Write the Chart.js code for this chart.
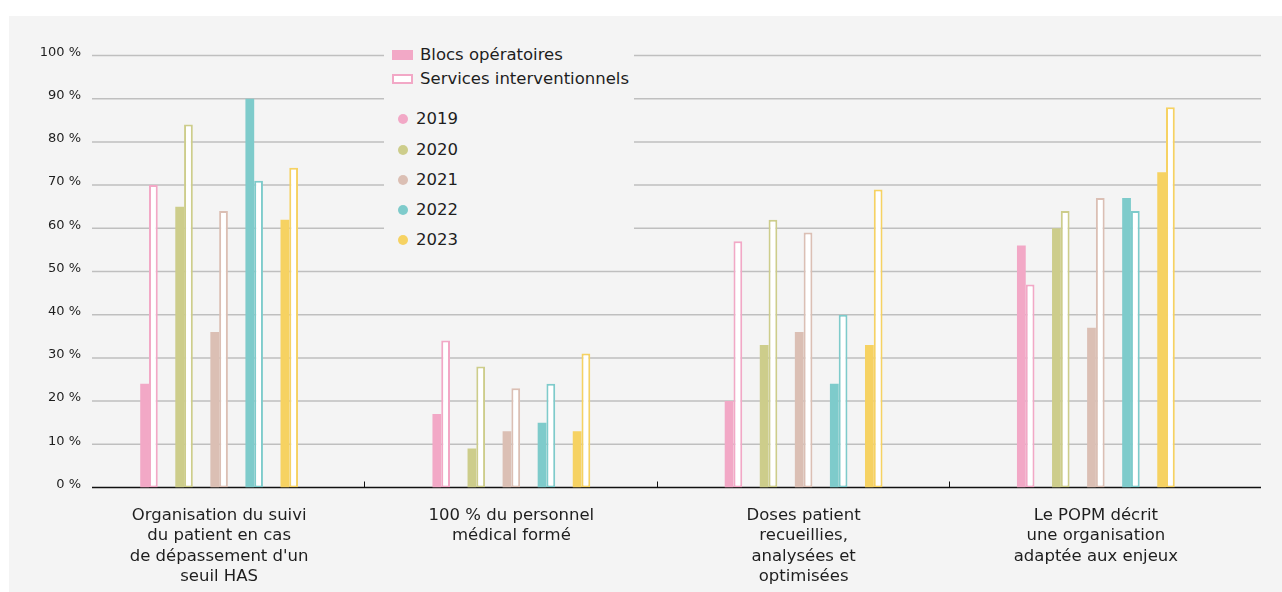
<!DOCTYPE html>
<html lang="fr">
<head>
<meta charset="utf-8">
<title>Radioprotection des patients</title>
<script src="https://cdn.jsdelivr.net/npm/chart.js@4.4.1/dist/chart.umd.min.js"></script>
<style>
  html, body { margin: 0; padding: 0; background: #ffffff; }
  body { width: 1282px; height: 592px; position: relative; overflow: hidden; font-family: "DejaVu Sans", sans-serif; color: #1e1e1e; }
  #fond { position: absolute; left: 9px; top: 16px; right: 0; bottom: 0; background: #f4f4f4; }
  #zone { position: absolute; left: 0; top: 0; width: 1282px; height: 592px; }
  #legende { position: absolute; left: 384px; top: 42px; width: 250px; height: 210px; background: #f4f4f4; }
  #legende .ligne { position: absolute; left: 0; height: 20px; line-height: 20px; font-size: 16.5px; white-space: nowrap; }
  #legende .carre { position: absolute; left: 8px; top: 5px; width: 21px; height: 10px; box-sizing: border-box; }
  #legende .rond { position: absolute; left: 14px; top: 5px; width: 10px; height: 10px; border-radius: 50%; }
</style>
</head>
<body>
<div id="fond"></div>
<div id="zone"><canvas id="chart" width="1282" height="592"></canvas></div>
<div id="legende"></div>

<script>
// indicateurs (une ligne par entrée pour l'axe des x)
const categories = [
  ["Organisation du suivi", "du patient en cas", "de dépassement d'un", "seuil HAS"],
  ["100 % du personnel", "médical formé"],
  ["Doses patient", "recueillies,", "analysées et", "optimisées"],
  ["Le POPM décrit", "une organisation", "adaptée aux enjeux"]
];

const annees = ["2019", "2020", "2021", "2022", "2023"];
const couleurs = ["#f2a8c6", "#cdcd8b", "#dbbfb4", "#7ecbcb", "#f6d262"];

// pourcentages : blocs opératoires (pleins) et services interventionnels (contour)
const blocs2019 = [24, 17, 20, 56];
const blocs2020 = [65, 9, 33, 60];
const blocs2021 = [36, 13, 36, 37];
const blocs2022 = [90, 15, 24, 67];
const blocs2023 = [62, 13, 33, 73];

const services2019 = [70, 34, 57, 47];
const services2020 = [84, 28, 62, 64];
const services2021 = [64, 23, 59, 67];
const services2022 = [71, 24, 40, 64];
const services2023 = [74, 31, 69, 88];

const ticksY = [0, 10, 20, 30, 40, 50, 60, 70, 80, 90, 100];

const blocs = [blocs2019, blocs2020, blocs2021, blocs2022, blocs2023];
const services = [services2019, services2020, services2021, services2022, services2023];

const police = "DejaVu Sans";

// deux barres collées par année, puis deux emplacements vides pour l'écart
const datasets = [];
annees.forEach((an, i) => {
  datasets.push({
    label: "Blocs opératoires " + an,
    data: blocs[i],
    backgroundColor: couleurs[i],
    borderWidth: 0
  });
  datasets.push({
    label: "Services interventionnels " + an,
    data: services[i],
    backgroundColor: "#ffffff",
    borderColor: couleurs[i],
    borderWidth: 2,
    borderSkipped: false
  });
  if (i < annees.length - 1) {
    datasets.push({ label: "", data: [] });
    datasets.push({ label: "", data: [] });
  }
});

// grille horizontale, axe, repères entre catégories et graduations en %
const grilleMaison = {
  id: "grilleMaison",
  beforeDatasetsDraw(chart) {
    const { ctx, chartArea, scales: { x, y } } = chart;
    const gauche = chartArea.left + 19;
    const droite = chartArea.right + 19;
    ctx.save();
    ctx.lineWidth = 1.5;
    ticksY.forEach(v => {
      if (v === 0) return;
      const py = y.getPixelForValue(v);
      ctx.strokeStyle = "#bfbfbf";
      ctx.beginPath();
      ctx.moveTo(gauche, py);
      ctx.lineTo(droite, py);
      ctx.stroke();
    });
    const p0 = y.getPixelForValue(0);
    ctx.strokeStyle = "#111111";
    ctx.beginPath();
    ctx.moveTo(gauche, p0);
    ctx.lineTo(droite, p0);
    ctx.stroke();
    ctx.lineWidth = 1;
    for (let i = 0; i < categories.length - 1; i++) {
      const px = Math.round((x.getPixelForTick(i) + x.getPixelForTick(i + 1)) / 2) - 0.5;
      ctx.beginPath();
      ctx.moveTo(px, p0);
      ctx.lineTo(px, p0 - 6);
      ctx.stroke();
    }
    ctx.fillStyle = "#1e1e1e";
    ctx.font = "13px '" + police + "'";
    ctx.textAlign = "right";
    ctx.textBaseline = "middle";
    ticksY.forEach(v => {
      ctx.fillText(v + " %", chartArea.left + 8, y.getPixelForValue(v) - 3);
    });
    ctx.restore();
  }
};

const ctx = document.getElementById("chart").getContext("2d");
new Chart(ctx, {
  type: "bar",
  data: { labels: categories, datasets: datasets },
  options: {
    responsive: false,
    animation: false,
    layout: { padding: { top: 55.5, right: 40, bottom: 0, left: 0 } },
    datasets: { bar: { barPercentage: 1, categoryPercentage: 0.54 } },
    plugins: { legend: { display: false }, tooltip: { enabled: false } },
    scales: {
      x: {
        grid: { display: false, drawTicks: false },
        border: { display: false },
        ticks: {
          color: "#1e1e1e",
          font: { family: police, size: 16.5, lineHeight: 1.23 },
          padding: 18,
          maxRotation: 0,
          autoSkip: false
        },
        afterFit: s => { s.height = 104.5; }
      },
      y: {
        min: 0,
        max: 100,
        grid: { display: false, drawTicks: false },
        border: { display: false },
        ticks: { stepSize: 10, display: false },
        afterFit: s => { s.width = 73; }
      }
    }
  },
  plugins: [grilleMaison]
});

// légende posée dans la zone du graphique
const legende = document.getElementById("legende");
function ajouterLigne(top, marque, texte, gaucheTexte) {
  const ligne = document.createElement("div");
  ligne.className = "ligne";
  ligne.style.top = top + "px";
  ligne.appendChild(marque);
  const span = document.createElement("span");
  span.style.position = "absolute";
  span.style.left = gaucheTexte + "px";
  span.textContent = texte;
  ligne.appendChild(span);
  legende.appendChild(ligne);
}

const plein = document.createElement("span");
plein.className = "carre";
plein.style.background = couleurs[0];
ajouterLigne(3, plein, "Blocs opératoires", 36);

const contour = document.createElement("span");
contour.className = "carre";
contour.style.background = "#ffffff";
contour.style.border = "2px solid " + couleurs[0];
ajouterLigne(27, contour, "Services interventionnels", 36);

const hauteurs = [67, 97.5, 128, 158, 188];
annees.forEach((an, i) => {
  const rond = document.createElement("span");
  rond.className = "rond";
  rond.style.background = couleurs[i];
  ajouterLigne(hauteurs[i], rond, an, 32);
});
</script>
</body>
</html>
